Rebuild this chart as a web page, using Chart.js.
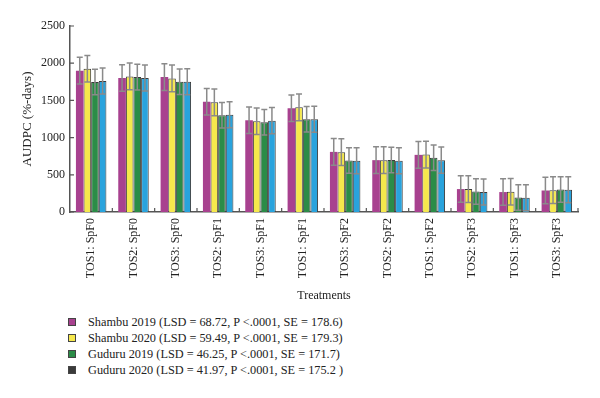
<!DOCTYPE html>
<html>
<head>
<meta charset="utf-8">
<script src="https://cdn.jsdelivr.net/npm/chart.js@4.4.0/dist/chart.umd.min.js"></script>
<style>
    body { margin: 0; background: #fff; }
    #wrap { position: relative; width: 600px; height: 398px; }
    #legend { position: absolute; left: 68px; top: 314px; font: 12.3px "Liberation Serif", "DejaVu Serif", serif; color: #222; }
    .item { height: 16px; line-height: 16px; display: flex; align-items: center; }
    .box { width: 6px; height: 6px; border: 1px solid #444; margin-right: 12px; }
</style>
</head>
<body>
<div id="wrap">
    <canvas id="chart" width="600" height="305"></canvas>
    <div id="legend"></div>
</div>
<script>
const categories = ['TOS1: SpF0', 'TOS2: SpF0', 'TOS3: SpF0', 'TOS2: SpF1', 'TOS3: SpF1', 'TOS1: SpF1',
    'TOS3: SpF2', 'TOS2: SpF2', 'TOS1: SpF2', 'TOS2: SpF3', 'TOS1: SpF3', 'TOS3: SpF3'];
const shambu2019 = [1900, 1800, 1813, 1482, 1233, 1394, 808, 697, 768, 308, 268, 289];
const shambu2020 = [1925, 1822, 1795, 1474, 1220, 1407, 804, 697, 772, 308, 272, 294];
const guduru2019 = [1746, 1813, 1750, 1300, 1206, 1246, 691, 700, 728, 276, 196, 303];
const guduru2020 = [1760, 1800, 1750, 1308, 1228, 1246, 688, 688, 697, 268, 192, 298];
const seriesNames = [
    'Shambu 2019 (LSD = 68.72, P <.0001, SE = 178.6)',
    'Shambu 2020 (LSD = 59.49, P <.0001, SE = 179.3)',
    'Guduru 2019 (LSD = 46.25, P <.0001, SE = 171.7)',
    'Guduru 2020 (LSD = 41.97, P <.0001, SE = 175.2 )'
];
const seValues = [178.6, 179.3, 171.7, 175.2];
const yTicks = [0, 500, 1000, 1500, 2000, 2500];

const barColors = ['#a8418f', '#f6e84c', '#2b8c47', '#29a3dd'];
const legendColors = ['#a8418f', '#f6e84c', '#2b8c47', '#3a3a3a'];
const FONT = '"Liberation Serif", "DejaVu Serif", serif';

// error bars + inward tick marks
const extras = {
    id: 'extras',
    afterDatasetsDraw(chart) {
        const ctx = chart.ctx;
        const y = chart.scales.y;
        const x = chart.scales.x;
        ctx.save();
        ctx.strokeStyle = '#8a8a8a';
        ctx.lineWidth = 1.5;
        chart.data.datasets.forEach((ds, di) => {
            chart.getDatasetMeta(di).data.forEach((bar, i) => {
                const v = ds.data[i];
                const top = y.getPixelForValue(v + seValues[di]);
                const bot = y.getPixelForValue(v - seValues[di]);
                ctx.beginPath();
                ctx.moveTo(bar.x, top); ctx.lineTo(bar.x, bot);
                ctx.moveTo(bar.x - 3, top); ctx.lineTo(bar.x + 3, top);
                ctx.moveTo(bar.x - 3, bot); ctx.lineTo(bar.x + 3, bot);
                ctx.stroke();
            });
        });
        ctx.strokeStyle = '#555';
        ctx.lineWidth = 1.2;
        ctx.beginPath();
        yTicks.forEach(t => {
            const py = y.getPixelForValue(t);
            ctx.moveTo(x.left, py); ctx.lineTo(x.left + 4, py);
        });
        const half = (x.getPixelForTick(1) - x.getPixelForTick(0)) / 2;
        for (let i = 0; i < categories.length; i++) {
            const px = x.getPixelForTick(i) + half;
            ctx.moveTo(px, y.bottom); ctx.lineTo(px, y.bottom - 4);
        }
        ctx.stroke();
        ctx.restore();
    }
};

const seriesData = [shambu2019, shambu2020, guduru2019, guduru2020];

new Chart(document.getElementById('chart'), {
    type: 'bar',
    data: {
        labels: categories,
        datasets: seriesData.map((d, i) => ({
            label: seriesNames[i],
            data: d,
            backgroundColor: barColors[i],
            borderColor: i === 0 ? barColors[i] : '#3a3a3a',
            borderWidth: i === 0 ? 0 : 1,
            categoryPercentage: 0.72,
            barPercentage: 1.0
        }))
    },
    options: {
        responsive: false,
        animation: false,
        layout: { padding: { top: 26, right: 22, left: 14, bottom: 0 } },
        plugins: { legend: { display: false }, tooltip: { enabled: false } },
        scales: {
            x: {
                grid: { display: false, drawTicks: false },
                border: { display: true, color: '#555', width: 1.5 },
                ticks: {
                    color: '#222', font: { family: FONT, size: 12 },
                    minRotation: 90, maxRotation: 90, padding: 6, autoSkip: false
                },
                title: { display: true, text: 'Treatments', color: '#222', font: { family: FONT, size: 12 }, padding: { top: 6, bottom: 2 } },
                afterFit: s => { s.height = 93; }
            },
            y: {
                min: 0, max: 2500,
                afterBuildTicks: s => { s.ticks = yTicks.map(v => ({ value: v })); },
                grid: { display: false, drawTicks: false },
                border: { display: true, color: '#555', width: 1.5 },
                ticks: { color: '#222', font: { family: FONT, size: 12 }, padding: 5, callback: v => String(v) },
                title: { display: true, text: 'AUDPC (%-days)', color: '#222', font: { family: FONT, size: 13 }, padding: { top: 6, bottom: 4 } },
                afterFit: s => { s.width = 56; }
            }
        }
    },
    plugins: [extras]
});

const legend = document.getElementById('legend');
seriesNames.forEach((name, i) => {
    const row = document.createElement('div');
    row.className = 'item';
    const box = document.createElement('span');
    box.className = 'box';
    box.style.background = legendColors[i];
    row.appendChild(box);
    row.appendChild(document.createTextNode(name));
    legend.appendChild(row);
});
</script>
</body>
</html>
